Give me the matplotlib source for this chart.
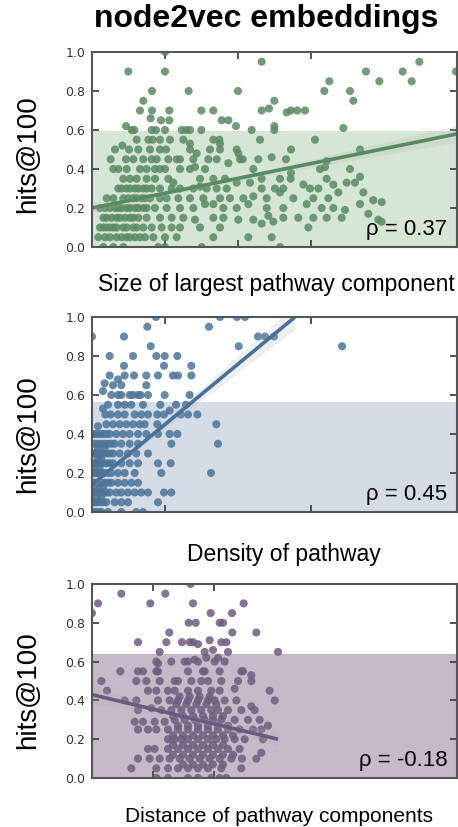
import numpy as np
import matplotlib
matplotlib.use("Agg")
import matplotlib.pyplot as plt

plt.rcParams['font.family'] = ['Liberation Sans', 'DejaVu Sans']

# hits@100 level -> x positions of pathways at that level (x axis is unlabeled)
size_rows = [
    (1.00, [219]),
    (0.95, [509, 982]),
    (0.90, [109, 219, 822, 932, 1092]),
    (0.85, [712, 862, 959]),
    (0.80, [180, 290, 438, 697, 774]),
    (0.75, [154, 547, 784]),
    (0.71, [531]),
    (0.70, [144, 180, 232, 328, 364, 509, 597, 616, 639]),
    (0.69, [584]),
    (0.66, [176]),
    (0.65, [207, 232, 389, 409]),
    (0.62, [102, 432, 547]),
    (0.61, [754]),
    (0.60, [119, 127, 179, 192, 219, 269, 282, 294, 328, 479, 547]),
    (0.55, [134, 169, 182, 204, 234, 274, 364, 382, 504, 669]),
    (0.53, [294, 384]),
    (0.52, [91]),
    (0.50, [69, 111, 139, 174, 204, 222, 294, 354, 384, 434, 597, 804]),
    (0.48, [314, 439]),
    (0.46, [539]),
    (0.45, [56, 102, 124, 154, 179, 194, 229, 254, 264, 304, 349, 374, 444, 452, 499, 582]),
    (0.44, [704]),
    (0.43, [409]),
    (0.41, [309, 699]),
    (0.40, [64, 79, 104, 144, 164, 189, 204, 219, 264, 294, 339, 484, 684, 774]),
    (0.38, [597]),
    (0.36, [804]),
    (0.35, [94, 114, 134, 164, 189, 229, 324, 364, 399, 509, 564, 596, 704]),
    (0.33, [244, 434, 474, 764, 789]),
    (0.32, [634, 724]),
    (0.31, [324]),
    (0.30, [79, 89, 104, 114, 129, 139, 154, 164, 179, 204, 239, 264, 304, 344, 374, 404,
            509, 549, 574, 654, 679]),
    (0.28, [739, 814, 564]),
    (0.26, [484]),
    (0.25, [44, 64, 94, 109, 124, 134, 149, 159, 174, 204, 224, 259, 294, 334, 384, 414, 454,
            524, 604, 664, 709]),
    (0.24, [844]),
    (0.23, [869]),
    (0.22, [339, 364, 469, 644, 804]),
    (0.20, [24, 39, 54, 69, 79, 89, 104, 114, 129, 139, 154, 164, 189, 224, 264, 304, 394,
            434, 524, 574, 689, 724]),
    (0.19, [759]),
    (0.17, [829]),
    (0.16, [529]),
    (0.15, [34, 44, 59, 74, 84, 99, 114, 124, 139, 164, 204, 239, 274, 364, 394, 574, 619,
            664, 704, 749]),
    (0.14, [309, 439, 484, 859]),
    (0.13, [544, 869]),
    (0.12, [509]),
    (0.10, [24, 34, 44, 54, 64, 74, 94, 104, 124, 134, 154, 179, 209, 239, 264, 324, 384, 649]),
    (0.05, [19, 39, 54, 74, 89, 104, 114, 129, 144, 159, 184, 219, 254, 364, 469, 539]),
    (0.00, [34, 64, 94, 199, 219, 329, 564]),
]

density_rows = [
    (1.00, [192, 384, 435, 459]),
    (0.95, [166, 351]),
    (0.90, [0, 96, 498, 519, 546]),
    (0.85, [176, 440, 750]),
    (0.80, [53, 123, 193, 218, 256]),
    (0.75, [96, 216, 298]),
    (0.70, [53, 98, 126, 163, 198, 243, 258, 298]),
    (0.68, [78]),
    (0.66, [38]),
    (0.65, [63, 88, 163]),
    (0.62, [33]),
    (0.60, [58, 78, 88, 113, 123, 138, 146, 168, 218, 293]),
    (0.55, [48, 78, 98, 118, 153, 205, 252, 282]),
    (0.53, [33]),
    (0.52, [233]),
    (0.50, [40, 56, 78, 98, 128, 148, 168, 196, 216, 266, 288, 316]),
    (0.45, [43, 63, 83, 103, 123, 143, 158, 196, 373]),
    (0.44, [18]),
    (0.40, [3, 13, 23, 33, 43, 53, 73, 93, 113, 138, 163, 198, 233, 256]),
    (0.35, [8, 18, 28, 38, 48, 58, 68, 88, 113, 138, 238, 378]),
    (0.33, [18, 38]),
    (0.30, [3, 8, 13, 23, 33, 43, 53, 63, 83, 108, 133, 168]),
    (0.28, [18, 28]),
    (0.25, [3, 8, 13, 23, 33, 43, 53, 63, 88, 113, 138, 198, 236]),
    (0.22, [3, 23]),
    (0.20, [3, 8, 13, 18, 28, 38, 48, 58, 78, 98, 128, 208, 357]),
    (0.15, [3, 8, 13, 18, 28, 38, 48, 58, 78, 98, 118, 138]),
    (0.12, [3, 18, 33]),
    (0.10, [3, 8, 13, 18, 23, 33, 43, 53, 73, 88, 108, 128, 148, 168, 216, 238]),
    (0.08, [13, 28]),
    (0.05, [3, 8, 13, 23, 33, 43, 68, 88, 108, 198]),
    (0.00, [3, 8, 18, 28, 48, 88, 133, 153]),
]

distance_rows = [
    (1.00, [296]),
    (0.95, [88, 220]),
    (0.90, [18, 175, 303, 455]),
    (0.85, [0, 356, 420]),
    (0.80, [290, 311, 383, 393]),
    (0.75, [232, 421, 493]),
    (0.71, [353]),
    (0.70, [138, 223, 270, 293, 303, 388, 403]),
    (0.69, [318]),
    (0.66, [363]),
    (0.65, [203, 338, 408, 558]),
    (0.62, [343, 378]),
    (0.61, [308]),
    (0.60, [193, 238, 278, 288, 318, 368, 398]),
    (0.59, [198]),
    (0.55, [85, 138, 153, 193, 198, 288, 333, 338, 383, 448, 453]),
    (0.53, [478]),
    (0.50, [28, 133, 163, 203, 248, 258, 298, 328, 348, 388, 438, 478]),
    (0.46, [428]),
    (0.45, [45, 168, 193, 228, 248, 288, 318, 358, 383, 533]),
    (0.42, [263, 293, 323, 353]),
    (0.40, [98, 133, 198, 233, 258, 288, 318, 348, 368, 398, 433, 548]),
    (0.38, [253, 283, 313, 343, 373]),
    (0.37, [478]),
    (0.36, [178]),
    (0.35, [138, 208, 238, 268, 298, 328, 358, 378, 408, 448, 488]),
    (0.32, [243, 273, 303, 333, 363, 393]),
    (0.30, [248, 278, 308, 338, 363, 388, 428, 468, 503]),
    (0.29, [128, 153, 188, 218]),
    (0.27, [258, 288, 318, 348, 378, 408, 528]),
    (0.25, [138, 168, 193, 228, 258, 288, 318, 348, 378, 408, 443, 483, 508]),
    (0.22, [243, 273, 303, 333, 363, 393, 423]),
    (0.20, [228, 248, 268, 288, 318, 348, 373, 398, 428, 458, 513]),
    (0.17, [243, 273, 303, 333, 363, 393]),
    (0.15, [168, 188, 228, 258, 288, 318, 348, 378, 408, 443]),
    (0.13, [508]),
    (0.12, [243, 273, 303, 333, 363, 393, 423]),
    (0.10, [138, 173, 203, 233, 263, 293, 323, 353, 383, 418, 450, 493]),
    (0.07, [273, 303, 333, 363, 393]),
    (0.05, [118, 193, 228, 258, 288, 318, 348, 388, 448]),
    (0.00, [193, 228, 288, 318, 358, 383, 403]),
]

# regression line end points (x, hits@100)
size_fit = ([0, 1095], [0.20, 0.58])
density_fit = ([0, 609], [0.14, 1.00])
distance_fit = ([0, 558], [0.43, 0.20])

rho_labels = ['ρ = 0.37', 'ρ = 0.45', 'ρ = -0.18']
x_labels = ['Size of largest pathway component', 'Density of pathway',
            'Distance of pathway components']
shade_tops = [0.595, 0.565, 0.64]
x_ticks = [[219, 438, 657], [219, 657], [182, 365]]

pt_colors = ['#5a8a62', '#4b7598', '#6f5c7e']
line_colors = ['#568a5f', '#47709a', '#6a5880']
shade_colors = ['#d6e6d4', '#d5dce6', '#c6b9c8']


def flatten(rows):
    xs, ys = [], []
    for yv, xv in rows:
        xs += xv
        ys += [yv] * len(xv)
    return np.array(xs, float), np.array(ys, float)


W, H = 458, 827
fig = plt.figure(figsize=(W / 100, H / 100), dpi=100)
fig.text(266 / W, 1 - 19 / H, 'node2vec embeddings', ha='center', va='center',
         fontsize=23, fontweight='bold')

tops = [52, 317, 584]
bottoms = [247, 512, 778]
ylab_y = [154, 434, 690]
xlab_x = [276, 284, 279]
xlab_y = [285, 555, 817]
xlab_size = [16.5, 16.5, 15]
datasets = [size_rows, density_rows, distance_rows]
fits = [size_fit, density_fit, distance_fit]

for i in range(3):
    ax = fig.add_axes([92 / W, 1 - bottoms[i] / H, 365 / W, (bottoms[i] - tops[i]) / H])
    x, y = flatten(datasets[i])
    ax.axhspan(0, shade_tops[i], color=shade_colors[i], lw=0, zorder=0)
    ax.scatter(x, y, s=34, color=pt_colors[i], alpha=0.85, edgecolors='none', zorder=2)

    fx = np.linspace(fits[i][0][0], fits[i][0][1], 100)
    fy = np.interp(fx, fits[i][0], fits[i][1])
    # faint confidence band around the fitted line
    pred = np.interp(x, fits[i][0], fits[i][1], left=np.nan, right=np.nan)
    ok = ~np.isnan(pred)
    se = np.std(y[ok] - pred[ok])
    half = se * np.sqrt(1 / ok.sum() + (fx - x.mean()) ** 2 / ((x - x.mean()) ** 2).sum())
    ax.fill_between(fx, fy - half, fy + half, color='#b0b0b0', alpha=0.2, lw=0, zorder=2.5)
    ax.plot(fx, fy, color=line_colors[i], lw=2.6, zorder=3, solid_capstyle='butt')

    ax.set_xlim(0, 1095)
    ax.set_ylim(0, 1.0)
    ax.set_xticks(x_ticks[i])
    ax.set_xticklabels([])
    ax.set_yticks([0, 0.2, 0.4, 0.6, 0.8, 1.0])
    ax.set_yticklabels(['0.0', '0.2', '0.4', '0.6', '0.8', '1.0'], fontsize=9,
                       color='#333333', family='DejaVu Sans')
    ax.tick_params(direction='in', top=True, right=True, length=5, width=1.3,
                   color='#444444', pad=5)
    for sp in ax.spines.values():
        sp.set_color('#555555')
        sp.set_linewidth(1.5)
        sp.set_zorder(4)

    ax.text(0.973, 0.06, rho_labels[i], transform=ax.transAxes, ha='right',
            va='baseline', fontsize=16, zorder=5)
    fig.text(28 / W, 1 - ylab_y[i] / H, 'hits@100', rotation=90, ha='center',
             va='center', fontsize=20)
    fig.text(xlab_x[i] / W, 1 - xlab_y[i] / H, x_labels[i], ha='center', va='center',
             fontsize=xlab_size[i])

fig.savefig('out.png', dpi=100)
